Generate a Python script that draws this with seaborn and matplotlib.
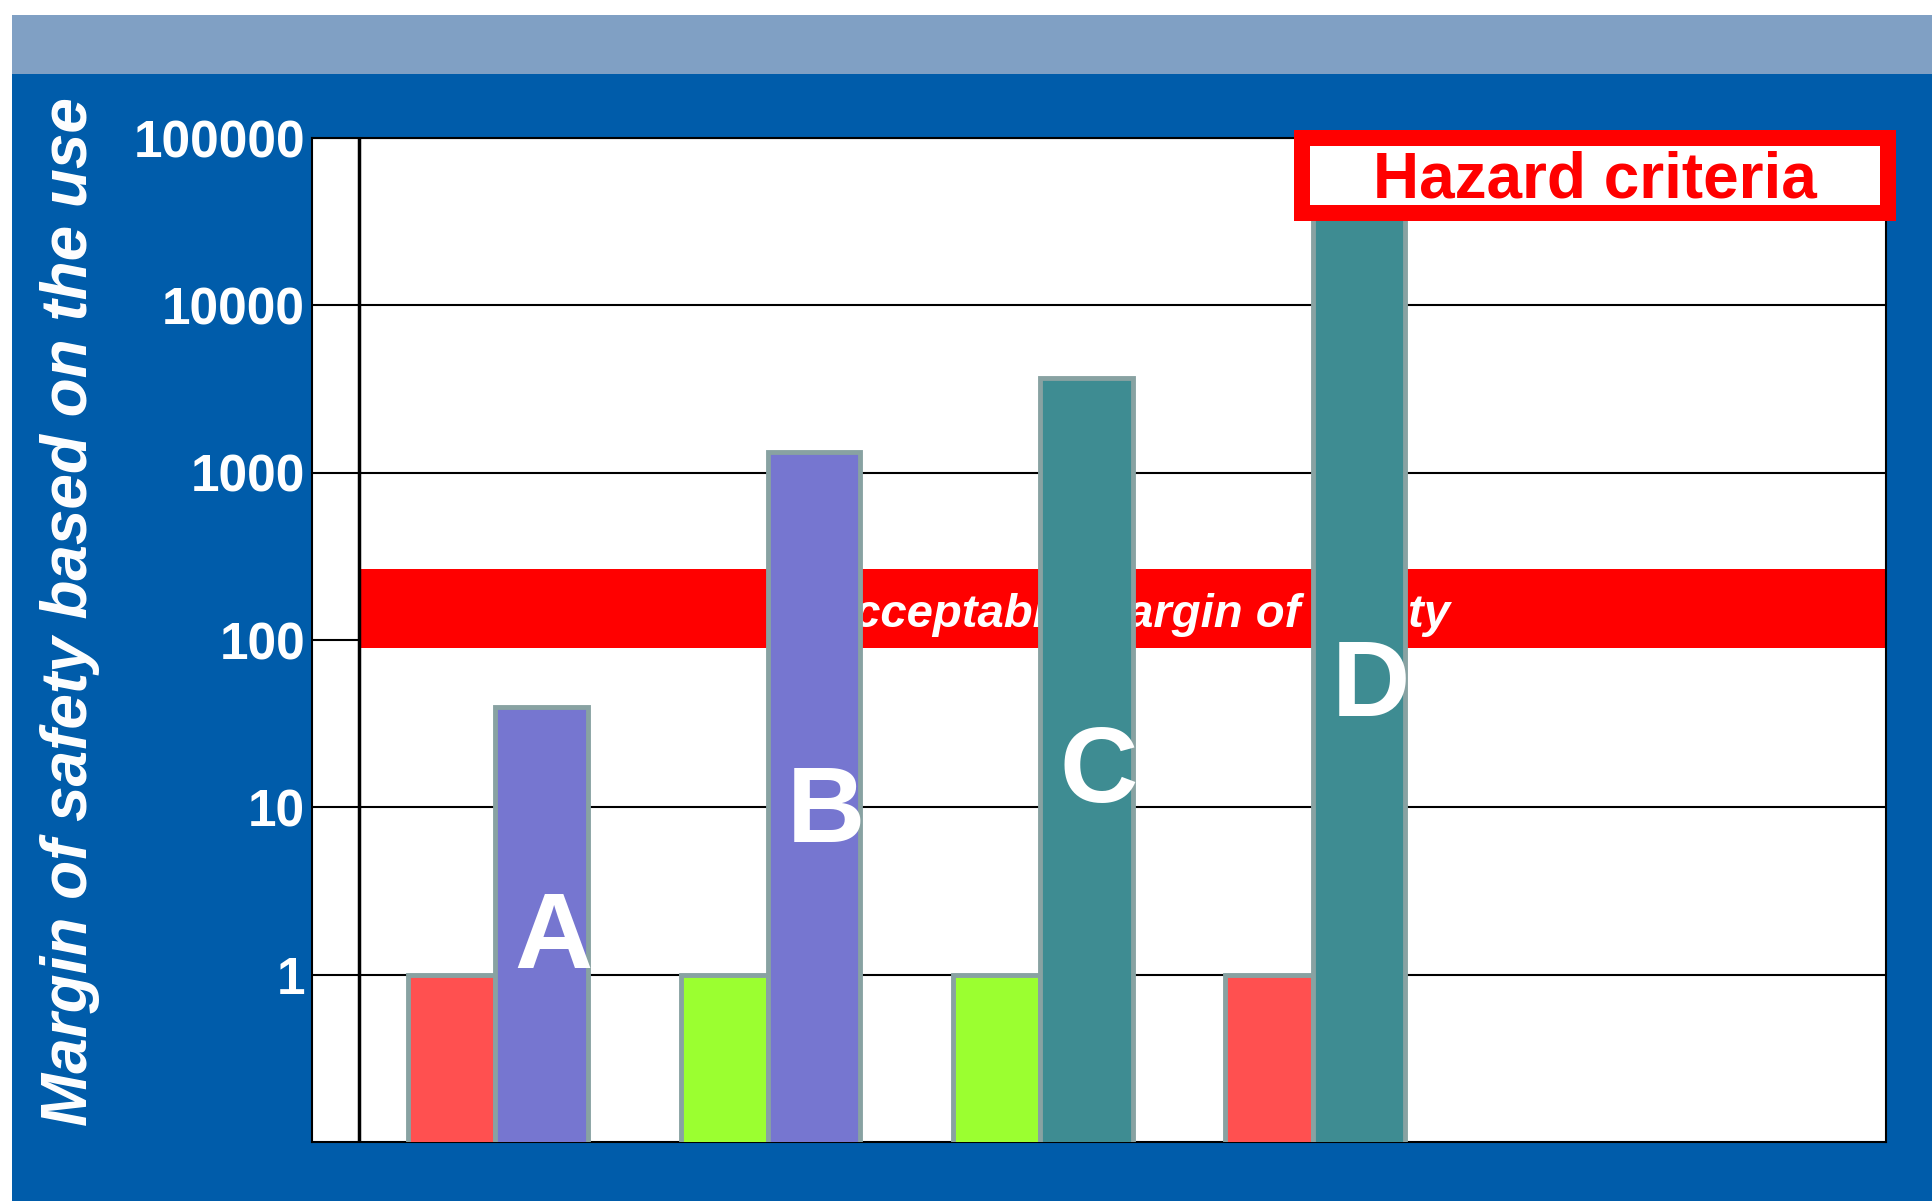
import numpy as np
import pandas as pd
import seaborn as sns
import matplotlib.pyplot as plt
from matplotlib.patches import Rectangle

# Datos
groups = ['A', 'B', 'C', 'D']
reference = [1, 1, 1, 1]
margin = [40, 1330, 3700, 100000]
ref_colors = ['#FF5050', '#9BFF30', '#9BFF30', '#FF5050']
sub_colors = ['#7676D0', '#7676D0', '#3E8C92', '#3E8C92']
yticks = [1, 10, 100, 1000, 10000, 100000]
ytick_labels = ['1', '10', '100', '1000', '10000', '100000']
band_low, band_high = 90, 265
band_text = 'Acceptable margin of safety'
hazard_text = 'Hazard criteria'
ylabel = 'Margin of safety based on the use'
letter_base = [1.1, 6.2, 10.7, 35]

W, H = 1933, 1201
sns.set_style('white')
plt.rcParams['font.family'] = ['Liberation Sans', 'DejaVu Sans']

fig = plt.figure(figsize=(W / 100, H / 100), dpi=100)
fig.patch.set_facecolor('white')


def box(x0, y0, x1, y1, **kw):
    # pixel box measured from the top-left corner
    fig.add_artist(Rectangle((x0 / W, 1 - y1 / H), (x1 - x0) / W, (y1 - y0) / H,
                             transform=fig.transFigure, lw=0, **kw))


# fondo tipo diapositiva
box(12, 15, W, 74, color='#80A0C4', zorder=-2)
box(12, 74, W, H, color='#005CAA', zorder=-2)

ax = fig.add_axes([312 / W, 1 - 1142 / H, (1886 - 312) / W, (1142 - 138) / H])
ax.set_facecolor('white')

ref_df = pd.DataFrame({'x': np.arange(4) - 0.16, 'y': reference,
                       'g': ['ref ' + g for g in groups]})
sub_df = pd.DataFrame({'x': np.arange(4) + 0.17, 'y': margin, 'g': groups})

bar_kw = dict(native_scale=True, dodge=False, saturation=1, legend=False,
              errorbar=None, edgecolor='#88A2A2', linewidth=3.5, zorder=3, ax=ax)
sns.barplot(data=ref_df, x='x', y='y', hue='g', palette=ref_colors, width=0.32, **bar_kw)
sns.barplot(data=sub_df, x='x', y='y', hue='g', palette=sub_colors, width=0.34, **bar_kw)

ax.set_yscale('log')
ax.set_ylim(0.1, 100000)
xmax = 5.105
ax.set_xlim(-0.673, xmax)

# banda del margen aceptable
ax.fill_between([-0.5, xmax], band_low, band_high, color='#FF0000', lw=0, zorder=1)
ax.text(2.35, 120, band_text, color='white', fontsize=34, fontweight='bold',
        fontstyle='italic', ha='center', va='baseline', zorder=2.5)
ax.axvline(-0.5, color='black', lw=2.5, zorder=2)

# letras sobre las barras
for i, g in enumerate(groups):
    ax.text(i + 0.215, letter_base[i], g, color='white', fontsize=78,
            fontweight='bold', ha='center', va='baseline', zorder=5)

ax.set_yticks(yticks)
ax.set_yticklabels(ytick_labels, color='white', fontsize=37, fontweight='bold')
ax.minorticks_off()
ax.tick_params(axis='y', which='both', length=0, pad=5)
ax.set_xticks([])
ax.set_xlabel('')
ax.set_axisbelow(True)
ax.yaxis.grid(True, color='black', lw=1.5)
ax.xaxis.grid(False)
for s in ax.spines.values():
    s.set_color('black')
    s.set_linewidth(1.5)

ax.set_ylabel(ylabel, color='white', fontsize=46, fontweight='bold', fontstyle='italic')
ax.yaxis.set_label_coords(-0.154, 0.528)
ax.yaxis.label.set_va('center')

# recuadro de criterio de peligro
box(1294, 130, 1896, 221, color='#FF0000', zorder=5)
box(1310, 146, 1880, 205, color='white', zorder=6)
fig.text(1595 / W, 1 - 197 / H, hazard_text, color='#FF0000', fontsize=46,
         fontweight='bold', ha='center', va='baseline', zorder=7)

fig.savefig('out.png', dpi=100)
